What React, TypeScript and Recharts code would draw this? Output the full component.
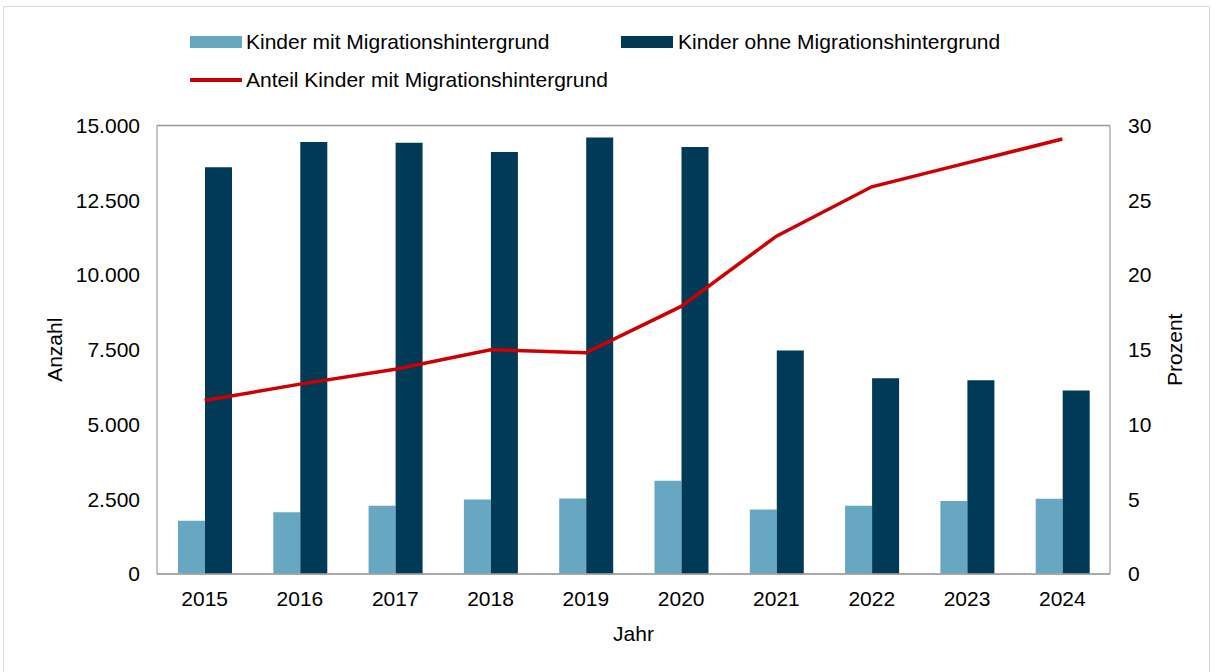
import React from 'react';
import { ComposedChart, Bar, Line, XAxis, YAxis, CartesianGrid, Legend } from 'recharts';

const years = ['2015', '2016', '2017', '2018', '2019', '2020', '2021', '2022', '2023', '2024'];
const kinderMit = [1780, 2065, 2280, 2490, 2525, 3115, 2155, 2280, 2445, 2515];
const kinderOhne = [13605, 14445, 14420, 14110, 14600, 14285, 7475, 6545, 6480, 6135];
const anteilMit = [11.6, 12.7, 13.7, 15.0, 14.8, 17.9, 22.6, 25.9, 27.5, 29.1];
const leftTicks = [0, 2500, 5000, 7500, 10000, 12500, 15000];
const rightTicks = [0, 5, 10, 15, 20, 25, 30];

const data = years.map((y, i) => ({ year: y, mit: kinderMit[i], ohne: kinderOhne[i], anteil: anteilMit[i] }));

const FONT = '"Liberation Sans", Arial, sans-serif';
const LIGHT = '#67A7C1';
const DARK = '#003A57';
const RED = '#CC0000';

const fmt = (v: number) => v.toLocaleString('de-DE');

const LegendContent = () => (
  <div style={{ position: 'relative', width: 1214, height: 100, fontFamily: FONT, fontSize: 21, color: '#000' }}>
    <div style={{ position: 'absolute', left: 190, top: 36, width: 52, height: 12, background: LIGHT }} />
    <div style={{ position: 'absolute', left: 246, top: 30, lineHeight: '24px', whiteSpace: 'nowrap' }}>Kinder mit Migrationshintergrund</div>
    <div style={{ position: 'absolute', left: 621, top: 36, width: 52, height: 12, background: DARK }} />
    <div style={{ position: 'absolute', left: 678, top: 30, lineHeight: '24px', whiteSpace: 'nowrap' }}>Kinder ohne Migrationshintergrund</div>
    <div style={{ position: 'absolute', left: 190, top: 78, width: 52, height: 4, background: RED }} />
    <div style={{ position: 'absolute', left: 246, top: 68, lineHeight: '24px', whiteSpace: 'nowrap' }}>Anteil Kinder mit Migrationshintergrund</div>
  </div>
);

export default function App() {
  return (
    <div style={{ position: 'absolute', left: 0, top: 0, width: 1214, height: 672, background: '#fff', fontFamily: FONT }}>
      <div style={{ position: 'absolute', left: 3, top: 6, width: 1207, height: 670, border: '1px solid #d9d9d9', boxSizing: 'border-box' }} />
      <div style={{ position: 'absolute', left: 0, top: 0 }}>
        <ComposedChart
          width={1214}
          height={672}
          data={data}
          margin={{ top: 25.5, right: 24, bottom: 0, left: 37 }}
          barGap={0}
        >
          <Legend verticalAlign="top" content={<LegendContent />} wrapperStyle={{ left: 0, top: 0, width: 1214, height: 100 }} />
          <CartesianGrid vertical={false} stroke="#999999" strokeWidth={1.3} />
          <XAxis
            dataKey="year"
            height={98}
            tickLine={false}
            axisLine={{ stroke: '#a6a6a6', strokeWidth: 1.3 }}
            tickMargin={11}
            tick={{ fontSize: 21, fill: '#000', fontFamily: FONT }}
            label={{ value: 'Jahr', position: 'insideBottom', offset: 31, fontSize: 21, fill: '#000', fontFamily: FONT }}
          />
          <YAxis
            yAxisId="left"
            width={120}
            domain={[0, 15000]}
            ticks={leftTicks}
            tickFormatter={fmt}
            tickLine={false}
            axisLine={{ stroke: '#a6a6a6', strokeWidth: 1.3 }}
            tickMargin={11}
            tick={{ fontSize: 21, fill: '#000', fontFamily: FONT }}
            label={{ value: 'Anzahl', angle: -90, position: 'insideLeft', offset: 18, fontSize: 21, fill: '#000', fontFamily: FONT, style: { textAnchor: 'middle' } }}
          />
          <YAxis
            yAxisId="right"
            orientation="right"
            width={80}
            domain={[0, 30]}
            ticks={rightTicks}
            tickLine={false}
            axisLine={{ stroke: '#a6a6a6', strokeWidth: 1.3 }}
            tickMargin={12}
            tick={{ fontSize: 21, fill: '#000', fontFamily: FONT }}
            label={{ value: 'Prozent', angle: -90, position: 'insideRight', offset: 15, fontSize: 21, fill: '#000', fontFamily: FONT, style: { textAnchor: 'middle' } }}
          />
          <Bar yAxisId="left" dataKey="mit" name="Kinder mit Migrationshintergrund" fill={LIGHT} barSize={27} isAnimationActive={false} />
          <Bar yAxisId="left" dataKey="ohne" name="Kinder ohne Migrationshintergrund" fill={DARK} barSize={27} isAnimationActive={false} />
          <Line yAxisId="right" dataKey="anteil" name="Anteil Kinder mit Migrationshintergrund" stroke={RED} strokeWidth={3.5} dot={false} type="linear" isAnimationActive={false} />
        </ComposedChart>
      </div>
    </div>
  );
}
